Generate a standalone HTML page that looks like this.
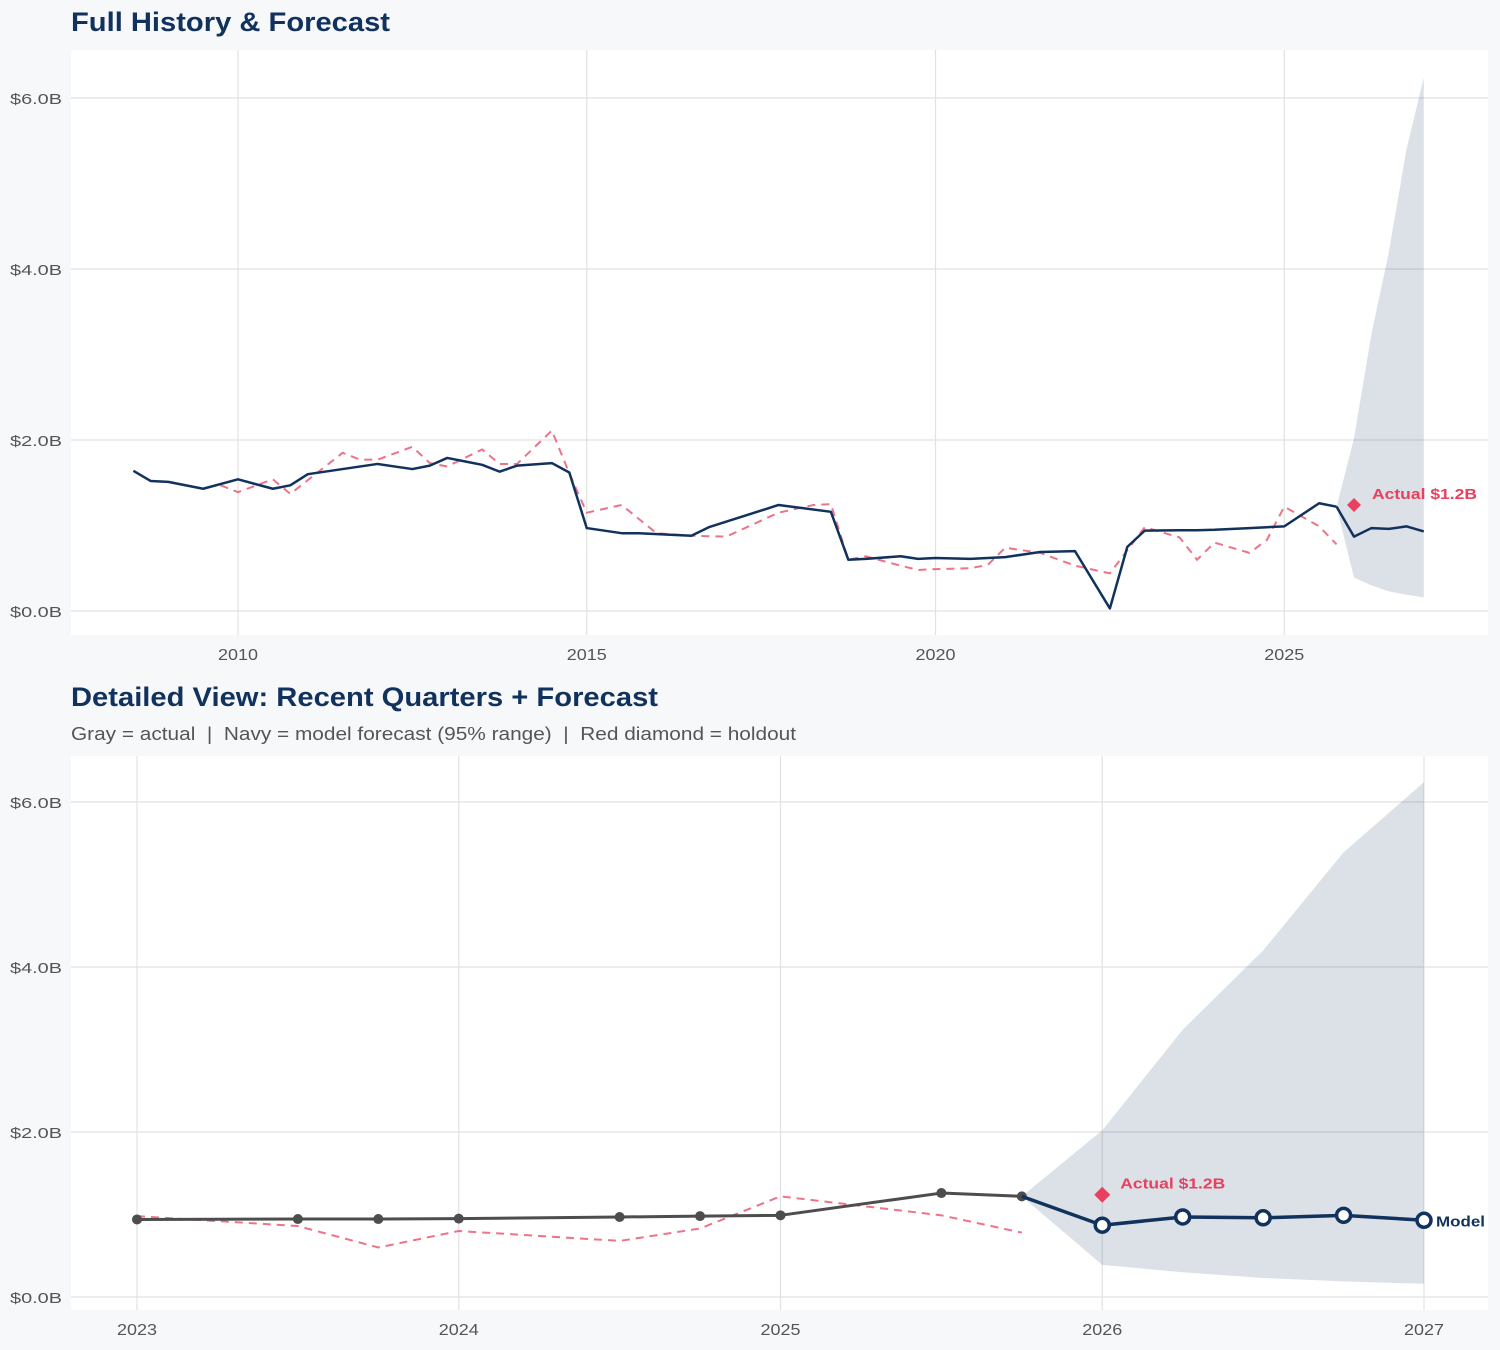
<!DOCTYPE html>
<html><head><meta charset="utf-8">
<style>
html,body{margin:0;padding:0;background:#f7f8fa;}
body{width:1500px;height:1350px;overflow:hidden;font-family:"Liberation Sans",sans-serif;}
svg{display:block;}
</style></head>
<body>
<svg id="chart" width="1500" height="1350" xmlns="http://www.w3.org/2000/svg"></svg>
<script>
// ---- data ----
const histDates = [2008.5,2008.75,2009.0,2009.5,2010.0,2010.5,2010.75,2011.0,2011.5,2012.0,2012.5,2012.75,2013.0,2013.25,2013.5,2013.75,2014.0,2014.5,2014.75,2015.0,2015.5,2015.75,2016.5,2016.75,2017.75,2018.5,2018.75,2019.0,2019.5,2019.75,2020.0,2020.5,2021.0,2021.5,2022.0,2022.5,2022.75,2023.0,2023.5,2023.75,2024.0,2024.5,2024.75,2025.0,2025.5,2025.75];
const histValues = [1.64,1.52,1.51,1.43,1.54,1.43,1.47,1.60,1.66,1.72,1.66,1.70,1.79,1.75,1.71,1.63,1.70,1.73,1.62,0.97,0.91,0.91,0.88,0.98,1.24,1.16,0.60,0.61,0.64,0.61,0.62,0.61,0.63,0.69,0.70,0.03,0.75,0.94,0.945,0.945,0.95,0.97,0.98,0.99,1.26,1.22];
const compDates = [2009.75,2010.0,2010.5,2010.75,2011.5,2011.75,2012.0,2012.5,2012.75,2013.0,2013.5,2013.75,2014.0,2014.5,2014.75,2015.0,2015.5,2016.0,2016.5,2017.0,2017.75,2018.25,2018.5,2018.75,2019.0,2019.5,2019.75,2020.0,2020.5,2020.75,2021.0,2021.5,2022.0,2022.5,2023.0,2023.5,2023.75,2024.0,2024.5,2024.75,2025.0,2025.5,2025.75];
const compValues = [1.47,1.39,1.54,1.37,1.85,1.77,1.77,1.92,1.73,1.69,1.89,1.72,1.72,2.11,1.61,1.15,1.24,0.91,0.88,0.87,1.15,1.24,1.25,0.60,0.64,0.53,0.48,0.49,0.50,0.54,0.74,0.68,0.53,0.44,0.98,0.86,0.60,0.80,0.68,0.83,1.22,0.99,0.78];
const fcDates = [2025.75,2026.0,2026.25,2026.5,2026.75,2027.0];
const fcValues = [1.22,0.87,0.97,0.96,0.99,0.93];
const fcUpper = [1.22,2.02,3.24,4.20,5.39,6.24];
const fcLower = [1.22,0.39,0.30,0.23,0.19,0.16];
const holdoutDate = [2026.0];
const holdoutValue = [1.24];
const yTicks = [0,2,4,6];
const yTickLabels = ["$0.0B","$2.0B","$4.0B","$6.0B"];
const topXTicks = [2010,2015,2020,2025];
const botXTicks = [2023,2024,2025,2026,2027];

const NS="http://www.w3.org/2000/svg";
const svg=document.getElementById('chart');
function el(tag,attrs,parent,text){const e=document.createElementNS(NS,tag);for(const k in attrs)e.setAttribute(k,attrs[k]);if(text!==undefined)e.textContent=text;(parent||svg).appendChild(e);return e;}

function panel(cfg){
  const g=el('g',{});
  
  
  const X=v=>cfg.x0+(v-cfg.d0)*cfg.pxPerYear;
  const Y=v=>cfg.yZero-v*cfg.pxPerB;
  const bg=el('rect',{x:cfg.left,y:cfg.top,width:cfg.right-cfg.left,height:cfg.bottom-cfg.top,fill:'#fff'},g);
  
  
  yTicks.forEach((t,i)=>{
    const l=el('line',{x1:cfg.left,x2:cfg.right,y1:Y(t),y2:Y(t),stroke:'#e2e2e2','stroke-width':1.2},g);
    
    
    const tx=el('text',{x:cfg.left-9,y:Y(t)+6,'text-anchor':'end','font-size':15,fill:'#555',textLength:52,lengthAdjust:'spacingAndGlyphs'},g,yTickLabels[i]);
    
    
  });
  cfg.xTicks.forEach(t=>{
    const l=el('line',{x1:X(t),x2:X(t),y1:cfg.top,y2:cfg.bottom,stroke:'#e2e2e2','stroke-width':1.2},g);
    
    
    const tx=el('text',{x:X(t),y:cfg.bottom+25,'text-anchor':'middle','font-size':16,fill:'#555',textLength:40,lengthAdjust:'spacingAndGlyphs'},g,String(t));
    
    
  });
  let pts=fcDates.map((d,i)=>X(d)+','+Y(fcUpper[i]));
  for(let i=fcDates.length-1;i>=0;i--)pts.push(X(fcDates[i])+','+Y(fcLower[i]));
  const band=el('polygon',{points:pts.join(' '),fill:'#12325e','fill-opacity':0.15},g);
  
  
  const f=cfg.minDate;
  const cd=[],cv=[];compDates.forEach((d,i)=>{if(d>=f){cd.push(d);cv.push(compValues[i]);}});
  const comp=el('polyline',{points:cd.map((d,i)=>X(d)+','+Y(cv[i])).join(' '),fill:'none',stroke:'#e8506a','stroke-opacity':0.8,'stroke-width':2,'stroke-dasharray':'8,6'},g);
  
  
  const hd=[],hv=[];histDates.forEach((d,i)=>{if(d>=f){hd.push(d);hv.push(histValues[i]);}});
  const histColor=cfg.detail?'#4d4d4d':'#12325e';
  const hist=el('polyline',{points:hd.map((d,i)=>X(d)+','+Y(hv[i])).join(' '),fill:'none',stroke:histColor,'stroke-width':cfg.detail?3:2.5,'stroke-linejoin':'round'},g);
  
  
  if(cfg.detail){hd.forEach((d,i)=>{const c=el('circle',{cx:X(d),cy:Y(hv[i]),r:5,fill:'#4d4d4d'},g);
    
    });}
  const fc=el('polyline',{points:fcDates.map((d,i)=>X(d)+','+Y(fcValues[i])).join(' '),fill:'none',stroke:'#12325e','stroke-width':cfg.detail?3.5:2.5,'stroke-linejoin':'round'},g);
  
  
  if(cfg.detail){fcDates.forEach((d,i)=>{if(i===0)return;const c=el('circle',{cx:X(d),cy:Y(fcValues[i]),r:7,fill:'#fff',stroke:'#12325e','stroke-width':3.5},g);
    
    });
    const ml=el('text',{x:X(fcDates[fcDates.length-1])+12,y:Y(fcValues[fcValues.length-1])+6,'font-size':15,'font-weight':'bold',fill:'#12325e',textLength:49,lengthAdjust:'spacingAndGlyphs'},g,'Model');
    
    }
  const hx=X(holdoutDate[0]),hy=Y(holdoutValue[0]),s=cfg.detail?8:7;
  const dm=el('polygon',{points:`${hx},${hy-s} ${hx+s},${hy} ${hx},${hy+s} ${hx-s},${hy}`,fill:'#e8405e'},g);
  
  
  const al=el('text',{x:hx+18,y:hy-6,'font-size':15,'font-weight':'bold',fill:'#e8405e',textLength:105,lengthAdjust:'spacingAndGlyphs'},g,'Actual $1.2B');
  
  
}

const t1=el('text',{x:71,y:31,'font-size':27,'font-weight':'bold',fill:'#12325e',textLength:319,lengthAdjust:'spacingAndGlyphs'},svg,'Full History & Forecast');


const t2=el('text',{x:71,y:706,'font-size':27,'font-weight':'bold',fill:'#12325e',textLength:587,lengthAdjust:'spacingAndGlyphs'},svg,'Detailed View: Recent Quarters + Forecast');


const st=el('text',{x:71,y:740,'font-size':18,fill:'#555',textLength:725,lengthAdjust:'spacingAndGlyphs'},svg,'Gray = actual  |  Navy = model forecast (95% range)  |  Red diamond = holdout');


st.setAttribute('xml:space','preserve');st.style.whiteSpace='pre';

panel({name:'full-history-chart',left:71,right:1488,top:50,bottom:635,x0:238,d0:2010,pxPerYear:69.75,yZero:611,pxPerB:85.5,xTicks:topXTicks,minDate:0,detail:false});
panel({name:'detail-chart',left:71,right:1488,top:756,bottom:1310,x0:137,d0:2023,pxPerYear:321.75,yZero:1297,pxPerB:82.5,xTicks:botXTicks,minDate:2023,detail:true});
</script>
</body></html>
